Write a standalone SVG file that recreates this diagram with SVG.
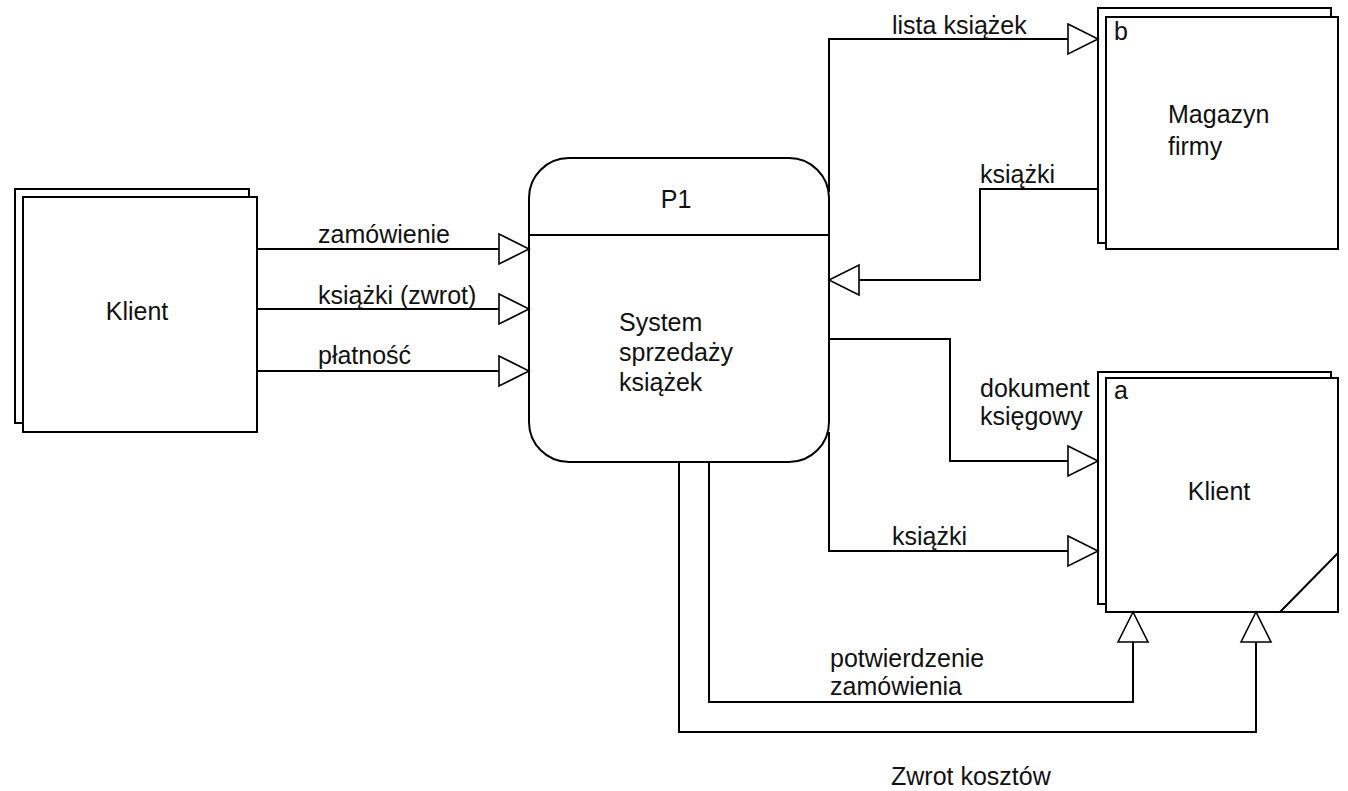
<svg xmlns="http://www.w3.org/2000/svg" width="1348" height="791" viewBox="0 0 1348 791">
<defs>
<style>
.box{fill:#fff;stroke:#000;stroke-width:2}
.ln{fill:none;stroke:#000;stroke-width:2}
text{font-family:"Liberation Sans",Arial,sans-serif;font-size:25px;fill:#111}
.c{text-anchor:middle}
</style>
<marker id="tri" markerUnits="userSpaceOnUse" markerWidth="34" markerHeight="34" viewBox="-2 -2 34 34" refX="30" refY="15" orient="auto">
<path d="M0,0 L30,15 L0,30 Z" fill="#fff" stroke="#000" stroke-width="1.6"/>
</marker>
</defs>
<rect width="1348" height="791" fill="#fff"/>
<g id="klient-left">
<rect class="box" x="15" y="189" width="234" height="234"/>
<rect class="box" x="23" y="197" width="234" height="235"/>
<text class="c" x="137" y="320">Klient</text>
</g>
<g id="process-p1">
<rect class="box" x="529" y="158" width="300" height="304" rx="40" ry="40"/>
<line class="ln" x1="529" y1="235" x2="829" y2="235"/>
<text class="c" x="676" y="208">P1</text>
<text x="619" y="331">System</text>
<text x="619" y="361">sprzedaży</text>
<text x="619" y="391">książek</text>
</g>
<g id="magazyn">
<rect class="box" x="1098" y="8" width="233" height="235"/>
<rect class="box" x="1106" y="17" width="232" height="232"/>
<text x="1114" y="40">b</text>
<text x="1168" y="123">Magazyn</text>
<text x="1168" y="155">firmy</text>
</g>
<g id="klient-right">
<rect class="box" x="1098" y="372" width="233" height="232"/>
<rect class="box" x="1106" y="378" width="232" height="234"/>
<line class="ln" x1="1280" y1="612" x2="1338" y2="553"/>
<text x="1114" y="399">a</text>
<text class="c" x="1219" y="500">Klient</text>
</g>
<g id="connectors">
<path class="ln" d="M257,249 H529" marker-end="url(#tri)"/>
<path class="ln" d="M257,309 H529" marker-end="url(#tri)"/>
<path class="ln" d="M257,371 H529" marker-end="url(#tri)"/>
<path class="ln" d="M829,192 V39 H1098" marker-end="url(#tri)"/>
<path class="ln" d="M1098,189 H980 V280 H829" marker-end="url(#tri)"/>
<path class="ln" d="M829,339 H950 V461 H1098" marker-end="url(#tri)"/>
<path class="ln" d="M829,432 V551 H1098" marker-end="url(#tri)"/>
<path class="ln" d="M709,462 V702 H1133 V612" marker-end="url(#tri)"/>
<path class="ln" d="M679,462 V732 H1256 V612" marker-end="url(#tri)"/>
<text x="318" y="243">zamówienie</text>
<text x="318" y="304">książki (zwrot)</text>
<text x="318" y="364">płatność</text>
<text x="892" y="34">lista książek</text>
<text x="980" y="183">książki</text>
<text x="980" y="397">dokument</text>
<text x="980" y="425">księgowy</text>
<text x="892" y="545">książki</text>
<text x="830" y="667">potwierdzenie</text>
<text x="830" y="695">zamówienia</text>
<text x="891" y="785">Zwrot kosztów</text>
</g>
</svg>
